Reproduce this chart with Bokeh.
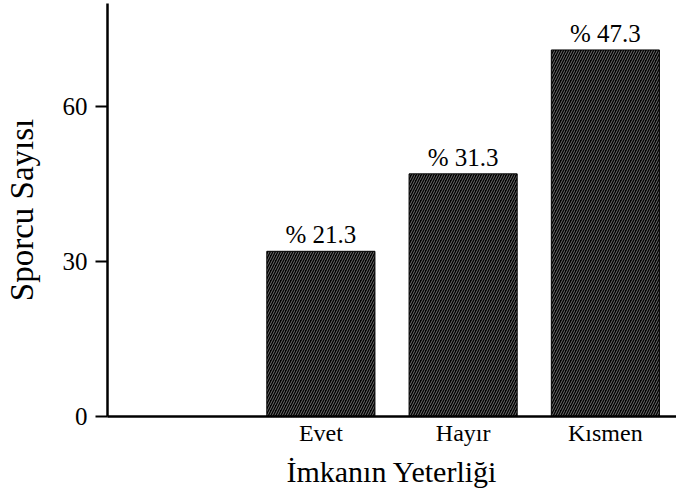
from bokeh.plotting import figure
from bokeh.models import ColumnDataSource, FactorRange, Range1d, FixedTicker
from bokeh.core.properties import value
from bokeh.embed import file_html
from bokeh.resources import INLINE

categories = [" ", "Evet", "Hayır", "Kısmen"]
bar_categories = ["Evet", "Hayır", "Kısmen"]
counts = [32, 47, 71]
percent_labels = ["% 21.3", "% 31.3", "% 47.3"]
y_ticks = [0, 30, 60]

FONT = "Liberation Serif"

p = figure(
    width=676, height=500,
    x_range=FactorRange(*categories, range_padding=0),
    y_range=Range1d(0, 80),
    output_backend="svg", toolbar_location=None,
    min_border_left=107, min_border_right=0,
    min_border_top=3, min_border_bottom=84,
)
p.outline_line_color = None
p.xgrid.grid_line_color = None
p.ygrid.grid_line_color = None

src = ColumnDataSource(dict(cat=bar_categories, n=counts, lab=percent_labels))
p.vbar(x="cat", top="n", width=0.76, source=src,
       fill_color="black", line_color="black", line_width=1,
       hatch_pattern="/", hatch_color="#a0a0a0", hatch_scale=5, hatch_weight=0.7)
p.text(x="cat", y="n", text="lab", source=src,
       text_align="center", text_baseline="bottom", y_offset=-3,
       text_font=value(FONT),
       text_font_size="25px", text_color="black")

# y axis
yax = p.yaxis[0]
yax.ticker = FixedTicker(ticks=y_ticks)
yax.minor_tick_line_color = None
yax.major_tick_out = 12
yax.major_tick_in = 0
yax.major_tick_line_width = 2
yax.axis_line_width = 2.5
yax.axis_line_color = "black"
yax.major_tick_line_color = "black"
yax.major_label_text_font = FONT
yax.major_label_text_font_size = "25px"
yax.major_label_text_color = "black"
yax.major_label_standoff = 8
yax.axis_label = "Sporcu Sayısı"
yax.axis_label_text_font = FONT
yax.axis_label_text_font_style = "normal"
yax.axis_label_text_font_size = "33px"
yax.axis_label_text_color = "black"
yax.axis_label_standoff = 20

# x axis
xax = p.xaxis[0]
xax.major_tick_line_color = None
xax.minor_tick_line_color = None
xax.axis_line_width = 2.5
xax.axis_line_color = "black"
xax.major_label_text_font = FONT
xax.major_label_text_font_size = "24px"
xax.major_label_text_color = "black"
xax.major_label_standoff = -3
xax.axis_label = "İmkanın Yeterliği"
xax.axis_label_text_font = FONT
xax.axis_label_text_font_style = "normal"
xax.axis_label_text_font_size = "30px"
xax.axis_label_text_color = "black"
xax.axis_label_standoff = 6

open("out.html", "w").write(file_html(p, INLINE))
